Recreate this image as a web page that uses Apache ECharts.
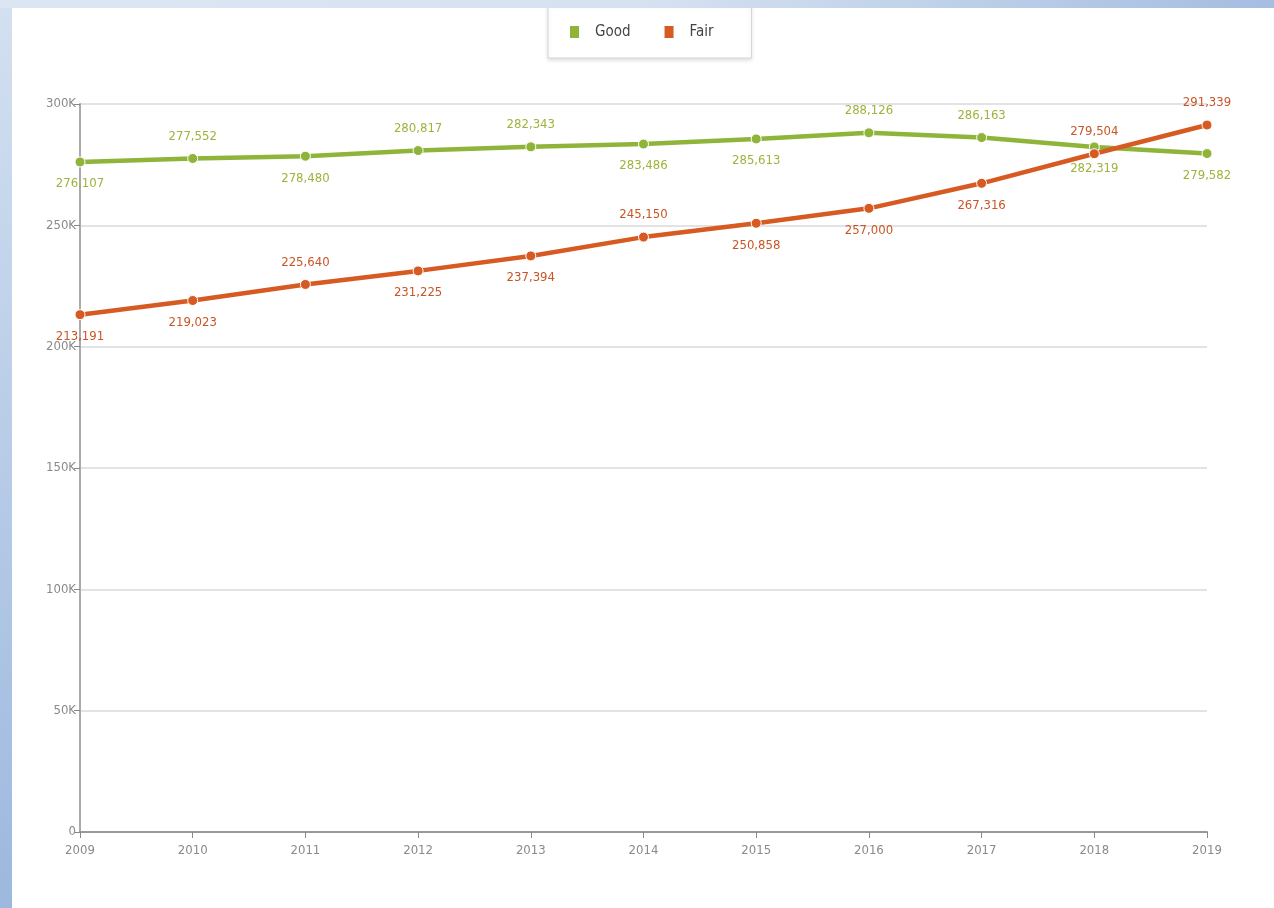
<!DOCTYPE html>
<html>
<head>
<meta charset="utf-8">
<script src="https://cdn.jsdelivr.net/npm/echarts@6/dist/echarts.min.js"></script>
<style>
  html, body { margin:0; padding:0; width:1274px; height:908px; overflow:hidden; background:#fff; }
  #leftbar { position:absolute; left:0; top:0; width:12px; height:908px; background:linear-gradient(to bottom,#d3e0f0,#9db8de); }
  #topbar { position:absolute; left:0; top:0; width:1274px; height:8px; background:linear-gradient(to right,#dce6f3,#d7e2f1 50%,#a5bde0); }
  #chart { position:absolute; left:0; top:0; width:1274px; height:908px; }
</style>
</head>
<body>
<div id="chart"></div>
<div id="leftbar"></div>
<div id="topbar"></div>
<script>
const years = ['2009','2010','2011','2012','2013','2014','2015','2016','2017','2018','2019'];
const goodValues = [276107, 277552, 278480, 280817, 282343, 283486, 285613, 288126, 286163, 282319, 279582];
const fairValues = [213191, 219023, 225640, 231225, 237394, 245150, 250858, 257000, 267316, 279504, 291339];
const goodLabelSide = ['bottom','top','bottom','top','top','bottom','bottom','top','top','bottom','bottom'];
const fairLabelSide = ['bottom','bottom','top','bottom','bottom','top','bottom','bottom','bottom','top','top'];
const yTicks = [0, 50000, 100000, 150000, 200000, 250000, 300000];

const GREEN = '#8fb43a';
const ORANGE = '#d75a22';
const FONT = '"DejaVu Sans Condensed", "DejaVu Sans", sans-serif';

function fmt(v){ return v.toLocaleString('en-US'); }
function mkData(vals, sides){
  return vals.map((v,i)=>({
    value: v,
    label: { position: sides[i] }
  }));
}

const chart = echarts.init(document.getElementById('chart'), null, {renderer:'canvas'});
chart.setOption({
  animation:false,
  backgroundColor:'#ffffff',
  legend:{
    top:4, left:548,
    itemWidth:11, itemHeight:14, itemGap:32,
    icon:'rect',
    padding:[20,38,18,20],
    borderColor:'#d6d6d6', borderWidth:1,
    backgroundColor:'#ffffff',
    shadowColor:'rgba(0,0,0,0.12)', shadowBlur:4, shadowOffsetY:2,
    textStyle:{ fontFamily:FONT, fontSize:15, color:'#444', padding:[0,0,0,10] },
    data:['Good','Fair']
  },
  grid:{ left:80, right:67, top:104, bottom:76, containLabel:false },
  xAxis:{
    type:'category', data:years, boundaryGap:false,
    axisLine:{ lineStyle:{ color:'#999', width:2 } },
    axisTick:{ show:true, alignWithLabel:true, length:6, lineStyle:{ color:'#888' } },
    axisLabel:{ color:'#8a8a8a', fontFamily:FONT, fontSize:13, margin:12 },
    splitLine:{ show:false }
  },
  yAxis:{
    type:'value', min:yTicks[0], max:yTicks[yTicks.length-1], interval:yTicks[1]-yTicks[0],
    axisLine:{ show:true, lineStyle:{ color:'#aaa', width:2 } },
    axisTick:{ show:true, length:6, lineStyle:{ color:'#888' } },
    axisLabel:{ color:'#8a8a8a', fontFamily:FONT, fontSize:13, margin:4,
      formatter: v => v === 0 ? '0' : (v/1000) + 'K' },
    splitLine:{ show:true, lineStyle:{ color:'#e3e3e3', width:2 } }
  },
  series:[
    {
      name:'Good', type:'line', data: mkData(goodValues, goodLabelSide),
      symbol:'circle', symbolSize:10,
      lineStyle:{ color:GREEN, width:4.5 },
      itemStyle:{ color:GREEN, borderColor:'#fff', borderWidth:1 },
      label:{ show:true, color:'#9cb43c', fontFamily:FONT, fontSize:13, distance:10, formatter: p => fmt(p.value) },
      z:2
    },
    {
      name:'Fair', type:'line', data: mkData(fairValues, fairLabelSide),
      symbol:'circle', symbolSize:10,
      lineStyle:{ color:ORANGE, width:4.5 },
      itemStyle:{ color:ORANGE, borderColor:'#fff', borderWidth:1 },
      label:{ show:true, color:'#c95526', fontFamily:FONT, fontSize:13, distance:10, formatter: p => fmt(p.value) },
      z:3
    }
  ]
});
</script>
</body>
</html>
